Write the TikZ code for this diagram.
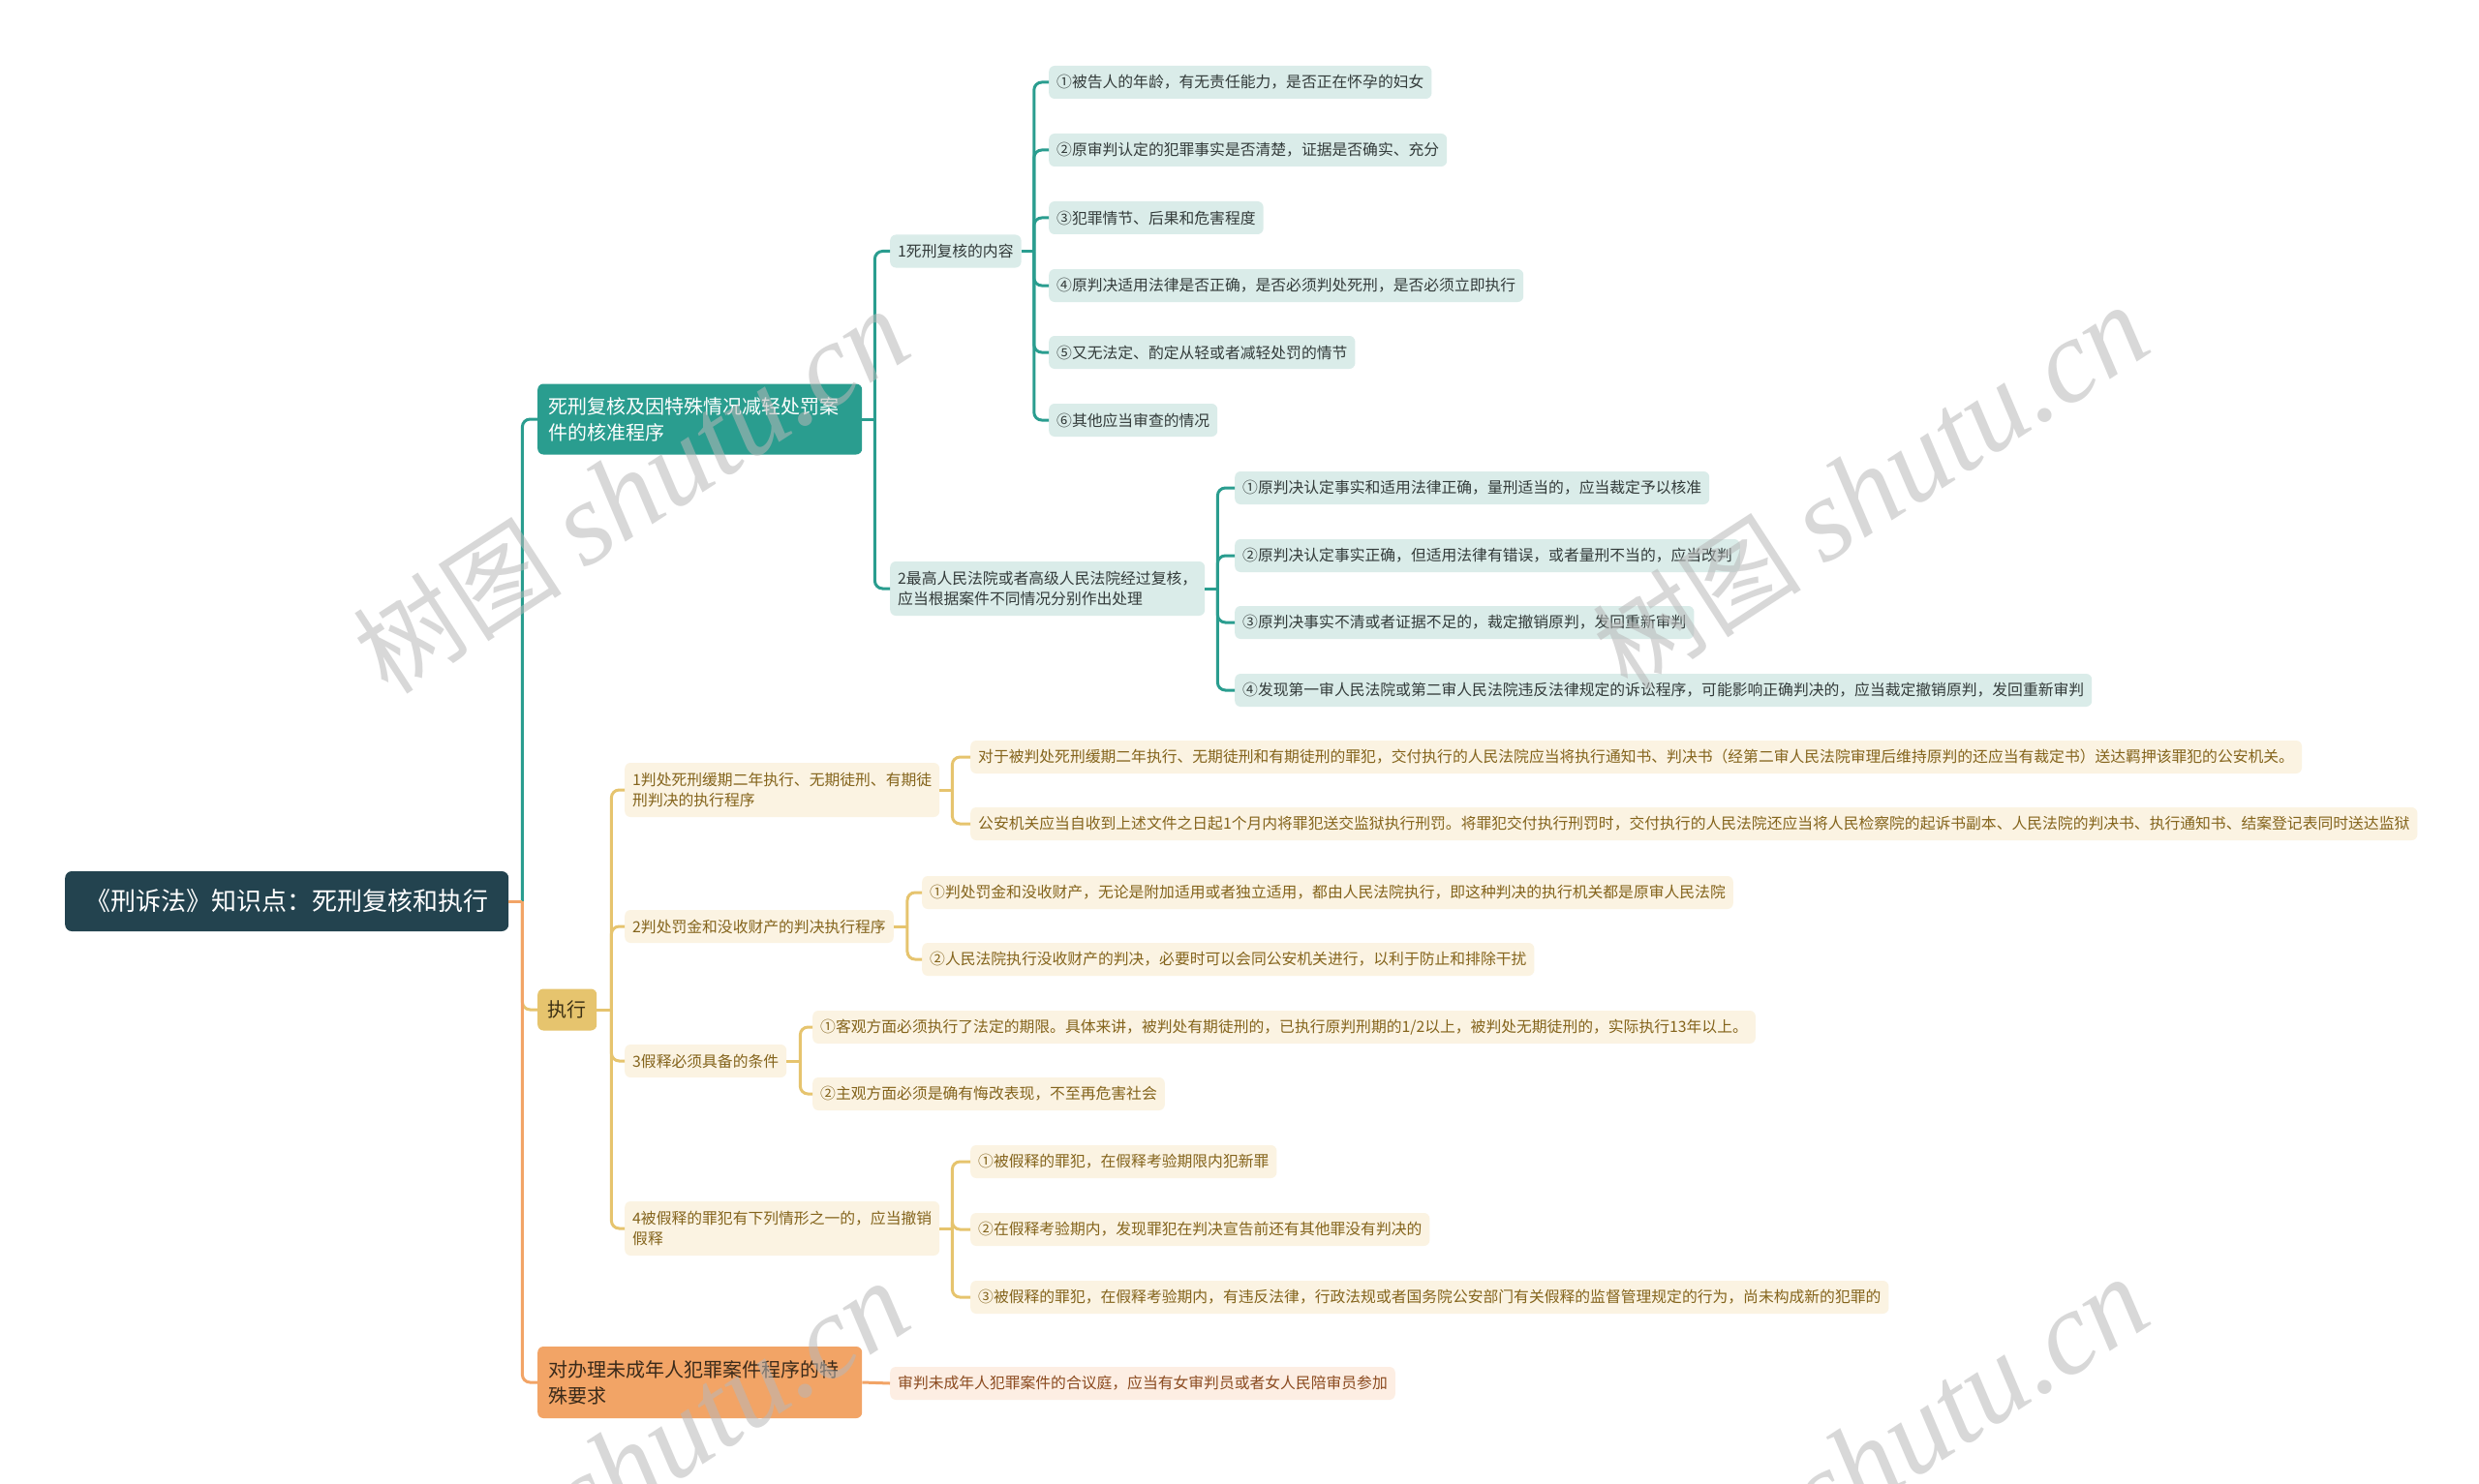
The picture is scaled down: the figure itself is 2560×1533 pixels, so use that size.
\documentclass[tikz,border=0pt]{standalone}
\usepackage{fontspec}
\setmainfont{Noto Sans CJK SC}
\newfontfamily\wmlatin{Liberation Serif}
\definecolor{rootC}{HTML}{23434F}
\definecolor{tealC}{HTML}{2A9D8F}
\definecolor{tealL}{HTML}{DAECE9}
\definecolor{tealT}{HTML}{333B3A}
\definecolor{goldC}{HTML}{E6C46E}
\definecolor{goldL}{HTML}{FBF3E2}
\definecolor{goldT}{HTML}{84641C}
\definecolor{goldD}{HTML}{3B3014}
\definecolor{orgC}{HTML}{F2A466}
\definecolor{orgL}{HTML}{FDEEE3}
\definecolor{orgT}{HTML}{8B4A1F}
\definecolor{orgD}{HTML}{3A2A1A}
\definecolor{wmC}{HTML}{B8B8B8}
\tikzset{
  leafbase/.style={anchor=west, rounded corners=6pt, inner xsep=8pt, inner ysep=0pt,
    minimum height=34pt, font=\fontsize{15.8}{21}\selectfont, align=left},
  tleaf/.style={leafbase, fill=tealL, text=tealT},
  gleaf/.style={leafbase, fill=goldL, text=goldT},
  oleaf/.style={leafbase, fill=orgL, text=orgT},
  twoline/.style={minimum height=56pt},
  mainbr/.style={anchor=west, rounded corners=6pt, inner xsep=11pt, inner ysep=0pt,
    font=\fontsize{20}{27}\selectfont, align=left},
  tconn/.style={draw=tealC, line width=3pt, rounded corners=8pt},
  gconn/.style={draw=goldC, line width=3pt, rounded corners=8pt},
  oconn/.style={draw=orgC, line width=3pt, rounded corners=8pt},
  wmark/.style={rotate=33, text=wmC, opacity=0.55, inner sep=0pt},
}
\newcommand{\wmtext}{{\fontsize{108}{108}\selectfont 树图 }{\wmlatin\itshape\fontsize{122}{122}\selectfont shutu.cn}}
\begin{document}
\begin{tikzpicture}[x=1pt,y=-1pt]
\useasboundingbox (0,0) rectangle (2560,1533);
\fill[white] (0,0) rectangle (2560,1533);

% root
\node[anchor=west, fill=rootC, text=white, rounded corners=7pt, inner xsep=21pt, inner ysep=0pt,
  minimum height=62pt, font=\fontsize{26}{30}\selectfont] (root) at (67,931) {《刑诉法》知识点：死刑复核和执行};

% main branches
\node[mainbr, fill=tealC, text=white, text width=313pt, minimum height=73pt] (b1) at (555,433)
  {死刑复核及因特殊情况减轻处罚案\\件的核准程序};
\node[mainbr, fill=goldC, text=goldD, inner xsep=10.5pt, minimum height=43pt] (b2) at (555,1043) {执行};
\node[mainbr, fill=orgC, text=orgD, text width=313pt, minimum height=74pt] (b3) at (555,1428)
  {对办理未成年人犯罪案件程序的特\\殊要求};

% branch 1 children
\node[tleaf] (m11) at (919,259.5) {1死刑复核的内容};
\node[tleaf, twoline] (m12) at (919,608) {2最高人民法院或者高级人民法院经过复核，\\应当根据案件不同情况分别作出处理};

\node[tleaf] (l111) at (1083,85) {①被告人的年龄，有无责任能力，是否正在怀孕的妇女};
\node[tleaf] (l112) at (1083,155) {②原审判认定的犯罪事实是否清楚，证据是否确实、充分};
\node[tleaf] (l113) at (1083,225) {③犯罪情节、后果和危害程度};
\node[tleaf] (l114) at (1083,295) {④原判决适用法律是否正确，是否必须判处死刑，是否必须立即执行};
\node[tleaf] (l115) at (1083,364) {⑤又无法定、酌定从轻或者减轻处罚的情节};
\node[tleaf] (l116) at (1083,434) {⑥其他应当审查的情况};

\node[tleaf] (l121) at (1275,504) {①原判决认定事实和适用法律正确，量刑适当的，应当裁定予以核准};
\node[tleaf] (l122) at (1275,574) {②原判决认定事实正确，但适用法律有错误，或者量刑不当的，应当改判};
\node[tleaf] (l123) at (1275,643) {③原判决事实不清或者证据不足的，裁定撤销原判，发回重新审判};
\node[tleaf] (l124) at (1275,713) {④发现第一审人民法院或第二审人民法院违反法律规定的诉讼程序，可能影响正确判决的，应当裁定撤销原判，发回重新审判};

% branch 2 children
\node[gleaf, twoline] (m21) at (645,816) {1判处死刑缓期二年执行、无期徒刑、有期徒\\刑判决的执行程序};
\node[gleaf] (m22) at (645,957) {2判处罚金和没收财产的判决执行程序};
\node[gleaf] (m23) at (645,1096) {3假释必须具备的条件};
\node[gleaf, twoline] (m24) at (645,1269) {4被假释的罪犯有下列情形之一的，应当撤销\\假释};

\node[gleaf] (l211) at (1002,782) {对于被判处死刑缓期二年执行、无期徒刑和有期徒刑的罪犯，交付执行的人民法院应当将执行通知书、判决书（经第二审人民法院审理后维持原判的还应当有裁定书）送达羁押该罪犯的公安机关。};
\node[gleaf] (l212) at (1002,851) {公安机关应当自收到上述文件之日起1个月内将罪犯送交监狱执行刑罚。将罪犯交付执行刑罚时，交付执行的人民法院还应当将人民检察院的起诉书副本、人民法院的判决书、执行通知书、结案登记表同时送达监狱};

\node[gleaf] (l221) at (952,922) {①判处罚金和没收财产，无论是附加适用或者独立适用，都由人民法院执行，即这种判决的执行机关都是原审人民法院};
\node[gleaf] (l222) at (952,991) {②人民法院执行没收财产的判决，必要时可以会同公安机关进行，以利于防止和排除干扰};

\node[gleaf] (l231) at (839,1061) {①客观方面必须执行了法定的期限。具体来讲，被判处有期徒刑的，已执行原判刑期的1/2以上，被判处无期徒刑的，实际执行13年以上。};
\node[gleaf] (l232) at (839,1130) {②主观方面必须是确有悔改表现，不至再危害社会};

\node[gleaf] (l241) at (1002,1200) {①被假释的罪犯，在假释考验期限内犯新罪};
\node[gleaf] (l242) at (1002,1270) {②在假释考验期内，发现罪犯在判决宣告前还有其他罪没有判决的};
\node[gleaf] (l243) at (1002,1340) {③被假释的罪犯，在假释考验期内，有违反法律，行政法规或者国务院公安部门有关假释的监督管理规定的行为，尚未构成新的犯罪的};

% branch 3 child
\node[oleaf] (l31) at (919,1429) {审判未成年人犯罪案件的合议庭，应当有女审判员或者女人民陪审员参加};

% ---------- connectors ----------
\coordinate (rj) at ([xshift=14pt]root.east);
\draw[tconn] (rj) |- (b1.west);
\draw[gconn] (rj) |- (b2.west);
\draw[oconn] (rj) |- (b3.west);
\draw[oconn] (root.east) -- (rj);

\coordinate (b1j) at ([xshift=13pt]b1.east);
\draw[tconn] (b1.east) -- (b1j);
\foreach \c in {m11,m12} \draw[tconn] (b1j) |- (\c.west);

\coordinate (m11j) at ([xshift=13pt]m11.east);
\draw[tconn] (m11.east) -- (m11j);
\foreach \c in {l111,l112,l113,l114,l115,l116} \draw[tconn] (m11j) |- (\c.west);

\coordinate (m12j) at ([xshift=13pt]m12.east);
\draw[tconn] (m12.east) -- (m12j);
\foreach \c in {l121,l122,l123,l124} \draw[tconn] (m12j) |- (\c.west);

\coordinate (b2j) at ([xshift=15pt]b2.east);
\draw[gconn] (b2.east) -- (b2j);
\foreach \c in {m21,m22,m23,m24} \draw[gconn] (b2j) |- (\c.west);

\coordinate (m21j) at ([xshift=13pt]m21.east);
\draw[gconn] (m21.east) -- (m21j);
\foreach \c in {l211,l212} \draw[gconn] (m21j) |- (\c.west);

\coordinate (m22j) at ([xshift=14pt]m22.east);
\draw[gconn] (m22.east) -- (m22j);
\foreach \c in {l221,l222} \draw[gconn] (m22j) |- (\c.west);

\coordinate (m23j) at ([xshift=14pt]m23.east);
\draw[gconn] (m23.east) -- (m23j);
\foreach \c in {l231,l232} \draw[gconn] (m23j) |- (\c.west);

\coordinate (m24j) at ([xshift=13pt]m24.east);
\draw[gconn] (m24.east) -- (m24j);
\foreach \c in {l241,l242,l243} \draw[gconn] (m24j) |- (\c.west);

\draw[oconn] (b3.east) -- (l31.west);

% ---------- watermarks ----------
\node[wmark] (wm1) at (652,508) {\wmtext};
\node[wmark] (wm2) at (1932,504) {\wmtext};
\node[wmark] (wm3) at (652,1512) {\wmtext};
\node[wmark] (wm4) at (1932,1508) {\wmtext};
\end{tikzpicture}
\end{document}
